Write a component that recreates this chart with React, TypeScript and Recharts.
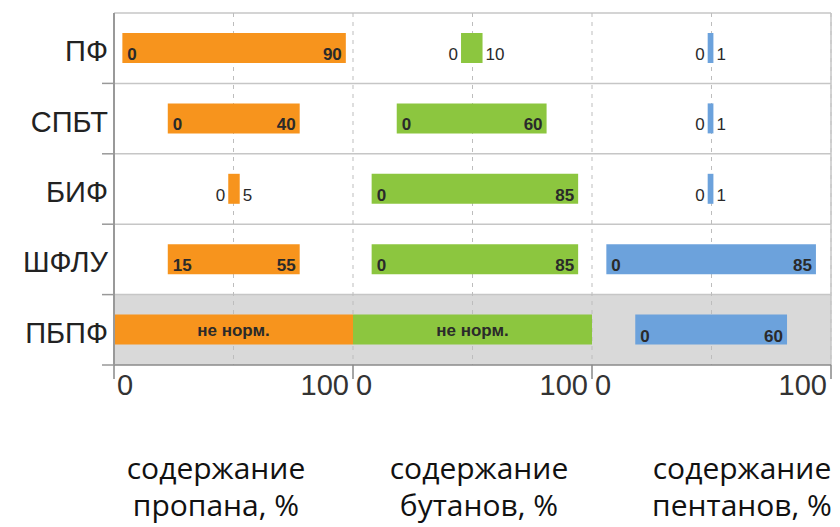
import { BarChart, Bar, XAxis, YAxis, CartesianGrid, ReferenceLine } from 'recharts'

const categories = ['ПФ', 'СПБТ', 'БИФ', 'ШФЛУ', 'ПБПФ']

// where each bar sits inside its own panel (0..100 of the panel width)
const propaneFrom = [3.5, 22.5, 47.8, 22.5, 0]
const propaneTo = [97, 77.7, 52.6, 77.7, 100]
const butaneFrom = [45.2, 18.3, 7.8, 7.8, 0]
const butaneTo = [54.2, 81, 94.2, 94.2, 100]
const pentaneFrom = [48.4, 48.4, 48.4, 6, 18.1]
const pentaneTo = [50.8, 50.8, 50.8, 93.7, 81.6]

// printed limits, null = не нормируется
const propaneMin = [0, 0, 0, 15, null]
const propaneMax = [90, 40, 5, 55, null]
const butaneMin = [0, 0, 0, 0, null]
const butaneMax = [10, 60, 85, 85, null]
const pentaneMin = [0, 0, 0, 0, 0]
const pentaneMax = [1, 1, 1, 85, 60]

const xTicks = [0, 50, 100, 150, 200, 250, 300]
const titles = [
  ['содержание', 'пропана, %'],
  ['содержание', 'бутанов, %'],
  ['содержание', 'пентанов, %'],
]

const W = 840
const H = 527
const margin = { top: 13, right: 9, left: 0, bottom: 122 }
const X_AXIS_H = 40
const ROW_H = (H - margin.top - margin.bottom - X_AXIS_H) / categories.length

const ORANGE = '#f7941d'
const GREEN = '#8cc63f'
const BLUE = '#6ca2dc'
const LABEL_FONT = '"Liberation Sans", Arial, sans-serif'

const data = categories.map((name, i) => ({
  name,
  propane: [propaneFrom[i], propaneTo[i]],
  butane: [100 + butaneFrom[i], 100 + butaneTo[i]],
  pentane: [200 + pentaneFrom[i], 200 + pentaneTo[i]],
}))

const makeLabel = (mins: (number | null)[], maxs: (number | null)[]) => (p: any) => {
  const { x, y, width, height, index } = p
  const lo = mins[index]
  const hi = maxs[index]
  const base = { fontFamily: LABEL_FONT, fontSize: 17, fill: '#2a2a2a' }
  if (lo == null || hi == null) {
    return (
      <text x={x + width / 2} y={y + height / 2 + 6} textAnchor="middle" {...base} fontWeight="bold">
        не норм.
      </text>
    )
  }
  const by = y + height - 3
  if (width < 30) {
    return (
      <g>
        <text x={x - 3} y={by} textAnchor="end" {...base}>{lo}</text>
        <text x={x + width + 3} y={by} textAnchor="start" {...base}>{hi}</text>
      </g>
    )
  }
  return (
    <g>
      <text x={x + 5} y={by} textAnchor="start" {...base} fontWeight="bold">{lo}</text>
      <text x={x + width - 4} y={by} textAnchor="end" {...base} fontWeight="bold">{hi}</text>
    </g>
  )
}

const renderYTick = (p: any) => {
  const { x, y, payload } = p
  return (
    <g>
      <text x={x - 6} y={y + 13} textAnchor="end" fontFamily={LABEL_FONT} fontSize={29} fill="#222">
        {payload.value}
      </text>
      <line x1={x - 12} x2={x} y1={y + ROW_H / 2} y2={y + ROW_H / 2} stroke="#999" strokeWidth={1.5} />
    </g>
  )
}

const renderXTick = (p: any) => {
  const { x, y, payload } = p
  const v = payload.value
  if (v % 100 !== 0) return <g />
  const style = { fontFamily: LABEL_FONT, fontSize: 29, fill: '#333' }
  return (
    <g>
      <line x1={x} x2={x} y1={y} y2={y + 14} stroke="#888" strokeWidth={1.5} />
      {v < 300 && <text x={x + 3} y={y + 30} textAnchor="start" {...style}>0</text>}
      {v > 0 && <text x={x - 4} y={y + 30} textAnchor="end" {...style}>100</text>}
    </g>
  )
}

export default function App() {
  return (
    <div style={{ position: 'absolute', left: 0, top: 0, width: W, height: H, background: '#fff' }}>
      <BarChart
        width={W}
        height={H}
        data={data}
        layout="vertical"
        margin={margin}
        barSize={30}
        barGap={-30}
      >
        <CartesianGrid
          vertical={false}
          stroke="#c6c6c6"
          strokeWidth={1.5}
          horizontalFill={['transparent', 'transparent', 'transparent', 'transparent', '#d9d9d9']}
          fillOpacity={1}
          horizontalCoordinatesGenerator={({ offset }: any) =>
            categories.map((_, i) => offset.top + i * (offset.height / categories.length))
          }
        />
        <CartesianGrid horizontal={false} stroke="#bdbdbd" strokeDasharray="4 5" />
        <ReferenceLine x={300} stroke="#c6c6c6" strokeWidth={1.5} />
        <XAxis
          type="number"
          domain={[0, 300]}
          ticks={xTicks}
          interval={0}
          height={X_AXIS_H}
          axisLine={{ stroke: '#8a8a8a', strokeWidth: 1.5 }}
          tickLine={false}
          tickSize={0}
          tickMargin={0}
          tick={renderXTick}
        />
        <YAxis
          type="category"
          dataKey="name"
          width={114}
          interval={0}
          axisLine={{ stroke: '#999', strokeWidth: 2 }}
          tickLine={false}
          tickSize={0}
          tickMargin={0}
          tick={renderYTick}
        />
        <Bar dataKey="propane" fill={ORANGE} isAnimationActive={false} label={makeLabel(propaneMin, propaneMax)} />
        <Bar dataKey="butane" fill={GREEN} isAnimationActive={false} label={makeLabel(butaneMin, butaneMax)} />
        <Bar dataKey="pentane" fill={BLUE} isAnimationActive={false} label={makeLabel(pentaneMin, pentaneMax)} />
      </BarChart>
      <svg width={W} height={H} style={{ position: 'absolute', left: 0, top: 0, pointerEvents: 'none' }}>
        {titles.map((t, i) => (
          <text key={i} x={216 + i * 263} textAnchor="middle" fontFamily='"Open Sans", sans-serif' fontSize={30} fill="#111">
            <tspan x={216 + i * 263} y={479}>{t[0]}</tspan>
            <tspan x={216 + i * 263} y={516}>{t[1]}</tspan>
          </text>
        ))}
      </svg>
    </div>
  )
}
